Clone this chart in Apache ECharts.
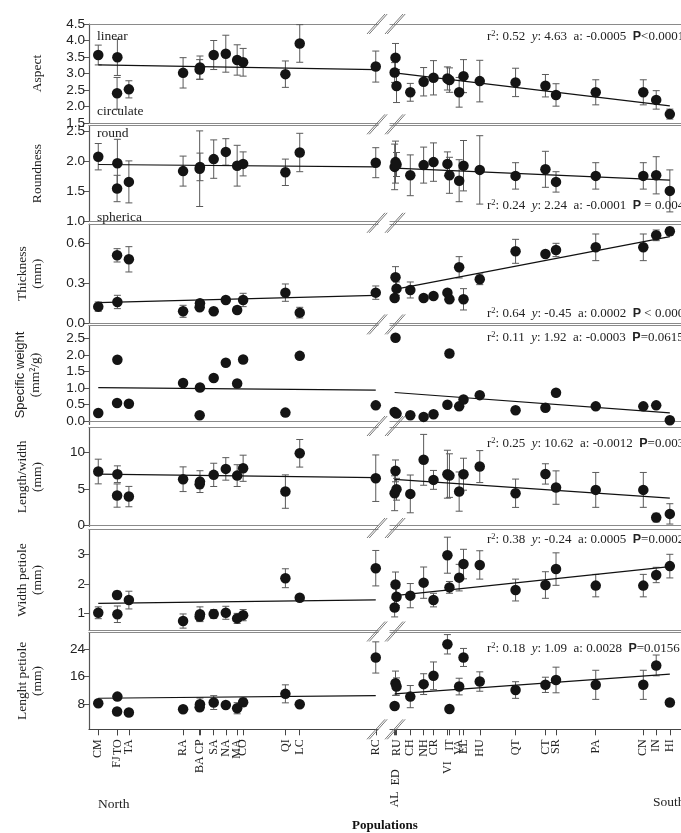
<!DOCTYPE html>
<html><head><meta charset="utf-8">
<script src="https://cdn.jsdelivr.net/npm/echarts@6/dist/echarts.min.js"></script>
<style>html,body{margin:0;padding:0;background:#fff}#c{width:681px;height:833px}</style>
</head><body><div id="c"></div>
<script>
// ---------- DATA ----------
const popsLeft = ['CM','FJ','TO','TA','RA','BA','CP','SA','NA','MA','CO','QI','LC','RC'];
const distLeft = [2,128,130,207,570,681,683,775,856,932,972,1255,1351,1860];
const popsRight = ['AL','ED','RU','CH','NH','CR','VI','IT','VA','EL','HU','QT','CT','SR','PA','CN','IN','HI'];
const distRight = [3262,3268,3275,3370,3462,3530,3626,3640,3707,3737,3849,4096,4302,4375,4649,4977,5066,5160];

const aspectTicks = [1.5,2.0,2.5,3.0,3.5,4.0,4.5];
const aspectLeft = [3.56,2.40,3.49,2.52,3.02,3.12,3.18,3.56,3.60,3.41,3.34,2.98,3.91,3.21];
const aspectLeftErr = [0.30,0.48,0.55,0.26,0.46,0.30,0.35,0.44,0.56,0.46,0.42,0.40,0.57,0.47];
const aspectRight = [3.03,3.48,2.62,2.43,2.75,2.87,2.85,2.80,2.43,2.92,2.77,2.73,2.63,2.35,2.43,2.43,2.20,1.77];
const aspectRightErr = [0.30,0.43,0.50,0.27,0.43,0.52,0.35,0.37,0.45,0.50,0.63,0.43,0.34,0.34,0.38,0.38,0.28,0.15];
const aspectTrendLeft = [3.26,3.12];
const aspectTrendRight = [3.02,2.02];
const aspectStats = ['0.52','4.63','-0.0005','<0.0001'];

const roundTicks = [1.0,1.5,2.0,2.5];
const roundLeft = [2.08,1.55,1.97,1.66,1.84,1.88,1.91,2.04,2.16,1.93,1.96,1.82,2.15,1.98];
const roundLeftErr = [0.22,0.22,0.40,0.35,0.25,0.63,0.23,0.32,0.22,0.34,0.20,0.22,0.32,0.25];
const roundRight = [1.91,1.99,1.95,1.77,1.94,1.99,1.96,1.77,1.68,1.93,1.86,1.76,1.87,1.66,1.76,1.76,1.77,1.51];
const roundRightErr = [0.38,0.35,0.20,0.34,0.30,0.32,0.20,0.30,0.35,0.42,0.57,0.22,0.30,0.17,0.22,0.22,0.31,0.35];
const roundTrendLeft = [1.95,1.91];
const roundTrendRight = [1.89,1.69];
const roundStats = ['0.24','2.24','-0.0001',' = 0.004'];

const thickTicks = [0.0,0.3,0.6];
const thickLeft = [0.125,0.51,0.16,0.48,0.09,0.12,0.15,0.09,0.175,0.10,0.175,0.23,0.08,0.23];
const thickLeftErr = [0.035,0.05,0.05,0.095,0.045,0.02,0.025,0.01,0.02,0.025,0.05,0.065,0.04,0.05];
const thickRight = [0.19,0.345,0.26,0.25,0.19,0.205,0.23,0.18,0.42,0.18,0.33,0.54,0.52,0.55,0.57,0.57,0.66,0.69];
const thickRightErr = [0,0.08,0.05,0.06,0.01,0.02,0.02,0.02,0.08,0.08,0.04,0.09,0.01,0.05,0.10,0.10,0.04,0.03];
const thickTrendLeft = [0.155,0.21];
const thickTrendRight = [0.255,0.65];
const thickStats = ['0.64','-0.45','0.0002',' < 0.0001'];

const swTicks = [0.0,0.5,1.0,1.5,2.0,2.5];
const swLeft = [0.25,0.55,1.86,0.53,1.16,0.18,1.02,1.31,1.77,1.14,1.87,0.26,1.98,0.48];
const swRight = [0.28,2.53,0.23,0.18,0.13,0.21,0.50,2.05,0.45,0.66,0.79,0.33,0.41,0.86,0.45,0.45,0.48,0.03];
const swTrendLeft = [1.02,0.94];
const swTrendRight = [0.87,0.25];
const swStats = ['0.11','1.92','-0.0003','=0.0615'];

const lwTicks = [0,5,10];
const lwLeft = [7.39,4.08,7.02,3.94,6.33,5.64,6.00,6.93,7.75,6.83,7.84,4.63,9.90,6.47];
const lwLeftErr = [1.7,1.6,1.15,1.4,1.7,0.55,1.5,1.6,1.55,1.5,1.8,2.3,1.9,3.2];
const lwRight = [4.40,7.48,4.95,4.31,9.00,6.24,7.02,6.83,4.63,7.02,8.07,4.40,7.06,5.18,4.86,4.86,1.05,1.56];
const lwRightErr = [2.4,1.5,1.5,2.6,3.5,1.3,3.3,3.0,2.7,2.2,2.2,1.95,1.4,2.3,2.4,2.4,0.6,1.4];
const lwTrendLeft = [7.02,6.56];
const lwTrendRight = [6.30,3.72];
const lwStats = ['0.25','10.62','-0.0012','=0.0039'];

const wpTicks = [1,2,3];
const wpLeft = [1.02,1.62,0.97,1.45,0.74,0.89,0.97,0.98,1.02,0.83,0.94,2.19,1.53,2.53];
const wpLeftErr = [0.20,0.13,0.28,0.30,0.24,0.15,0.25,0.15,0.22,0.17,0.19,0.32,0.05,0.60];
const wpRight = [1.20,1.98,1.56,1.60,2.04,1.45,2.97,1.88,2.21,2.67,2.64,1.79,1.96,2.50,1.94,1.94,2.30,2.60];
const wpRightErr = [0.32,0.42,0.30,0.41,0.53,0.23,0.61,0.20,0.45,0.50,0.48,0.37,0.45,0.55,0.38,0.38,0.26,0.40];
const wpTrendLeft = [1.34,1.46];
const wpTrendRight = [1.60,2.58];
const wpStats = ['0.38','-0.24','0.0005','=0.0002'];

const lpTicks = [8,16,24];
const lpLeft = [8.29,5.90,10.2,5.60,6.55,7.13,8.00,8.48,7.80,6.84,8.58,11.0,8.00,21.5];
const lpLeftErr = [0,0,0,0,0,1.0,1.8,2.0,0,1.6,1.2,2.6,0,4.5];
const lpRight = [7.50,14.07,13.1,10.2,13.8,16.2,25.3,6.65,13.1,21.5,14.55,12.1,13.6,15.0,13.6,13.6,19.2,8.5];
const lpRightErr = [1.0,3.5,2.5,3.2,3.0,4.0,2.8,0,2.4,2.6,2.8,2.4,2.2,3.7,4.2,4.2,3.0,0];
const lpTrendLeft = [9.73,10.5];
const lpTrendRight = [11.0,16.7];
const lpStats = ['0.18','1.09','0.0028','=0.0156'];

// ---------- STYLE / LAYOUT ----------
const SERIF = "'Liberation Serif','Times New Roman',serif";
const SANS = "'Liberation Sans',Arial,sans-serif";
const panels = [
  {name:'Aspect', top:24, bottom:123, min:1.5, max:4.5, dec:1, ticks:aspectTicks, L:aspectLeft, LE:aspectLeftErr, R:aspectRight, RE:aspectRightErr, TL:aspectTrendLeft, TR:aspectTrendRight, stats:aspectStats, statsY:37},
  {name:'Roundness', top:125.5, bottom:221.5, min:1.0, max:2.6, dec:1, ticks:roundTicks, L:roundLeft, LE:roundLeftErr, R:roundRight, RE:roundRightErr, TL:roundTrendLeft, TR:roundTrendRight, stats:roundStats, statsY:206},
  {name:'Thickness\n(mm)', top:224, bottom:323.3, min:0, max:0.745, dec:1, ticks:thickTicks, L:thickLeft, LE:thickLeftErr, R:thickRight, RE:thickRightErr, TL:thickTrendLeft, TR:thickTrendRight, stats:thickStats, statsY:314},
  {name:'{s|Specific weight}\n{t|(mm²/g)}', top:325.5, bottom:424.5, min:-0.1, max:2.9, dec:1, ticks:swTicks, L:swLeft, LE:null, R:swRight, RE:null, TL:swTrendLeft, TR:swTrendRight, stats:swStats, statsY:338},
  {name:'Length/width\n(mm)', top:427.5, bottom:526.3, min:-0.15, max:13.45, dec:0, ticks:lwTicks, L:lwLeft, LE:lwLeftErr, R:lwRight, RE:lwRightErr, TL:lwTrendLeft, TR:lwTrendRight, stats:lwStats, statsY:444},
  {name:'Width petiole\n(mm)', top:529.5, bottom:630.5, min:0.42, max:3.84, dec:0, ticks:wpTicks, L:wpLeft, LE:wpLeftErr, R:wpRight, RE:wpRightErr, TL:wpTrendLeft, TR:wpTrendRight, stats:wpStats, statsY:540},
  {name:'Lenght petiole\n(mm)', top:632.5, bottom:729.3, min:0.77, max:28.7, dec:0, ticks:lpTicks, L:lpLeft, LE:lpLeftErr, R:lpRight, RE:lpRightErr, TL:lpTrendLeft, TR:lpTrendRight, stats:lpStats, statsY:649}
];
const LEFT_X0 = 89, LEFT_X1 = 378, RIGHT_X0 = 390, RIGHT_W = 300;
const xMinL = -60, xMaxL = 1875, xMinR = 3230, xMaxR = 5237;
const labelRowOffset = {FJ:17, BA:17, VI:22, ED:30, AL:52};
const BORDER = '#8a8a8a';

const grid = [], xAxis = [], yAxis = [], series = [];

function errRender(params, api) {
  const e = api.value(2);
  if (!e) return;
  const x = api.value(0), y = api.value(1);
  const t = api.coord([x, y + e]), b = api.coord([x, y - e]);
  const c = 3.5, st = {stroke:'#5a5a5a', lineWidth:1};
  return {type:'group', children:[
    {type:'line', shape:{x1:t[0],y1:t[1],x2:b[0],y2:b[1]}, style:st},
    {type:'line', shape:{x1:t[0]-c,y1:t[1],x2:t[0]+c,y2:t[1]}, style:st},
    {type:'line', shape:{x1:b[0]-c,y1:b[1],x2:b[0]+c,y2:b[1]}, style:st}
  ]};
}

function labelFormatter(pops, dist) {
  return function(v) {
    let bi = 0, bd = Infinity;
    dist.forEach((d,i)=>{ if (Math.abs(d-v) < bd) { bd = Math.abs(d-v); bi = i; } });
    const name = pops[bi];
    const off = labelRowOffset[name];
    return off ? '{o' + off + '|' + name + '}' : '{n|' + name + '}';
  };
}
const labelRich = {n:{fontFamily:SERIF, fontSize:12, color:'#222'}};
Object.values(labelRowOffset).forEach(o => { labelRich['o'+o] = {fontFamily:SERIF, fontSize:12, color:'#222', padding:[0,o,0,0]}; });

panels.forEach((p, k) => {
  const isLast = k === panels.length - 1;
  const h = p.bottom - p.top;
  grid.push({left:LEFT_X0, top:p.top, width:LEFT_X1-LEFT_X0, height:h});
  grid.push({left:RIGHT_X0, top:p.top, width:RIGHT_W, height:h});
  [[xMinL,xMaxL,popsLeft,distLeft],[xMinR,xMaxR,popsRight,distRight]].forEach((cfg, side) => {
    const gi = 2*k + side;
    xAxis.push({
      type:'value', gridIndex:gi, min:cfg[0], max:cfg[1], position:'bottom',
      axisLine:{show:true, lineStyle:{color:isLast?'#444':BORDER, width:isLast?1.2:1.2}},
      axisTick:{show:isLast, length:6, lineStyle:{color:'#444'}, customValues:cfg[3]},
      axisLabel:{show:isLast, rotate:90, margin:10, customValues:cfg[3], formatter:labelFormatter(cfg[2],cfg[3]), rich:labelRich},
      splitLine:{show:false}
    });
    xAxis.push({
      type:'value', gridIndex:gi, min:cfg[0], max:cfg[1], position:'top',
      axisLine:{show:true, onZero:false, lineStyle:{color:BORDER, width:1.2}},
      axisTick:{show:false}, axisLabel:{show:false}, splitLine:{show:false}
    });
    yAxis.push({
      type:'value', gridIndex:gi, min:p.min, max:p.max, show: side === 0,
      name: side === 0 ? p.name : '', nameLocation:'middle', nameGap: k===3 ? 46 : 44,
      nameTextStyle:{fontFamily:SERIF, fontSize:13.5, color:'#222', lineHeight:15,
        rich:{s:{fontFamily:SANS, fontSize:13, color:'#222', lineHeight:15}, t:{fontFamily:SERIF, fontSize:13.5, color:'#222', lineHeight:15}}},
      axisLine:{show:true, onZero:false, lineStyle:{color:'#555', width:1.2}},
      axisTick:{show:true, length:5, lineStyle:{color:'#555'}, customValues:p.ticks},
      axisLabel:{fontFamily:SANS, fontSize:13.5, color:'#222', margin:4, customValues:p.ticks, formatter:(v)=>Number(v).toFixed(p.dec)},
      splitLine:{show:false}
    });
  });
  const sides = [[distLeft,p.L,p.LE,p.TL],[distRight,p.R,p.RE,p.TR]];
  sides.forEach((s, side) => {
    const xi = 4*k + 2*side, yi = 2*k + side;
    const dist = s[0], vals = s[1], errs = s[2], tr = s[3];
    if (errs) {
      series.push({type:'custom', xAxisIndex:xi, yAxisIndex:yi, renderItem:errRender, z:2,
        encode:{x:0,y:1}, data: vals.map((v,i)=>[dist[i], v, errs[i]]), silent:true});
    }
    series.push({type:'line', xAxisIndex:xi, yAxisIndex:yi, symbol:'none', z:3, silent:true,
      lineStyle:{color:'#111', width:1.2},
      data:[[dist[0], tr[0]], [dist[dist.length-1], tr[1]]]});
    series.push({type:'scatter', xAxisIndex:xi, yAxisIndex:yi, symbolSize:10.5, z:4, silent:true,
      itemStyle:{color:'#141414', opacity:1},
      data: vals.map((v,i)=>[dist[i], v])});
  });
});

// graphics: annotations, break marks, labels
const graphic = [];
function statsRich(s) {
  return '{n|r}{sup|2}{n|: ' + s[0] + '  }{i|y}{n|: ' + s[1] + '  a: ' + s[2] + '  }{b|P}{n|' + s[3] + '}';
}
const statRich = {
  n:{fontFamily:SERIF, fontSize:13, color:'#222', lineHeight:16},
  i:{fontFamily:SERIF, fontSize:13, fontStyle:'italic', color:'#222', lineHeight:16},
  sup:{fontFamily:SERIF, fontSize:8.5, color:'#222', verticalAlign:'top', lineHeight:16},
  b:{fontFamily:SANS, fontSize:12.5, fontWeight:'bold', color:'#222', lineHeight:16}
};
panels.forEach(p => {
  graphic.push({type:'text', left:487, top:p.statsY - 8, z:10,
    style:{text:statsRich(p.stats), rich:statRich, fill:'#222'}});
});
const boundaries = [24, 124.3, 222.8, 324.4, 426, 528, 631.5, 729.3];
boundaries.forEach(y => {
  [376, 394].forEach(cx => {
    [0, 2.2].forEach(dx => {
      graphic.push({type:'line', z:10, shape:{x1:cx-9+dx, y1:y+10, x2:cx+9+dx, y2:y-10},
        style:{stroke:'#6a6a6a', lineWidth:0.9}});
    });
  });
});
const textItems = [
  ['linear', 97, 29], ['circulate', 97, 104], ['round', 97, 126], ['spherica', 97, 210]
];
textItems.forEach(t => graphic.push({type:'text', left:t[1], top:t[2], z:10,
  style:{text:t[0], fontFamily:SERIF, fontSize:13.5, fill:'#222'}}));
graphic.push({type:'text', left:98, top:797, style:{text:'North', fontFamily:SERIF, fontSize:13.5, fill:'#222'}});
graphic.push({type:'text', left:653, top:795, style:{text:'South', fontFamily:SERIF, fontSize:13.5, fill:'#222'}});
graphic.push({type:'text', left:352, top:819, style:{text:'Populations', fontFamily:SERIF, fontSize:13, fontWeight:'bold', fill:'#111'}});

const chart = echarts.init(document.getElementById('c'), null, {renderer:'canvas'});
chart.setOption({backgroundColor:'#fff', animation:false, grid, xAxis, yAxis, series, graphic});
</script>
</body></html>
